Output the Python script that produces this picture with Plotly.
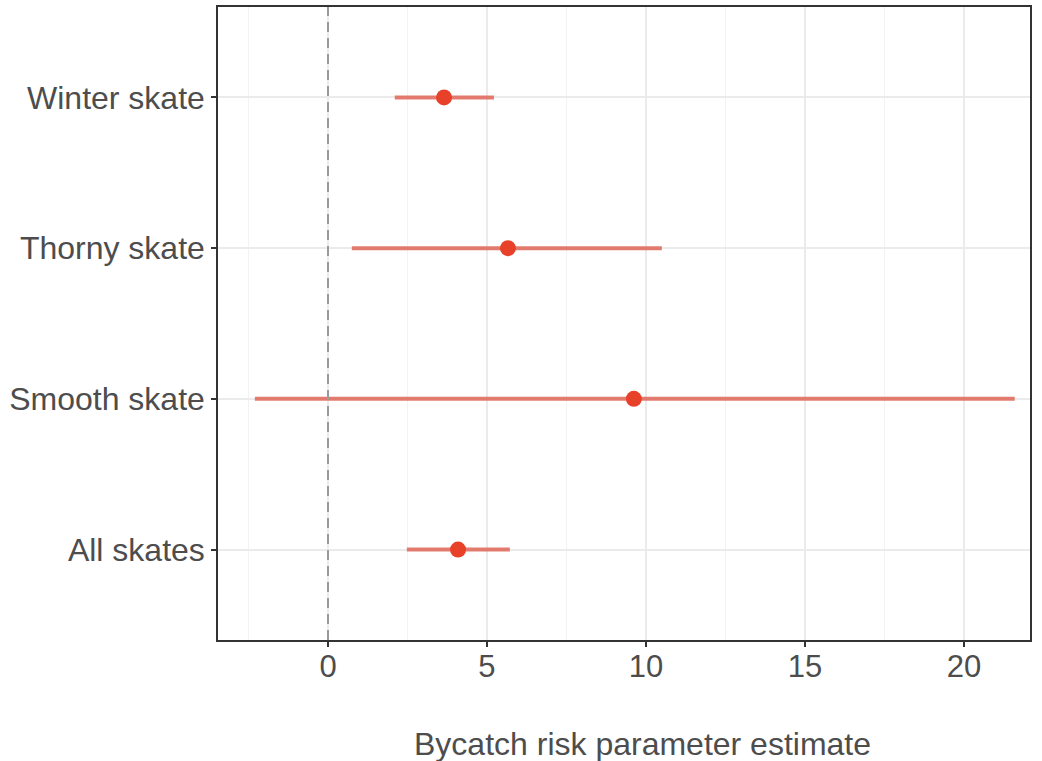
import plotly.graph_objects as go

categories = ["All skates", "Smooth skate", "Thorny skate", "Winter skate"]
estimate = [4.09, 9.62, 5.66, 3.65]
lower = [2.48, -2.30, 0.75, 2.10]
upper = [5.72, 21.60, 10.50, 5.22]
ref_x = 0

err_plus = [u - e for u, e in zip(upper, estimate)]
err_minus = [e - l for e, l in zip(estimate, lower)]

fig = go.Figure()
# dashed reference line at x = 0, on a hidden [0, 1] overlay axis
fig.add_trace(go.Scatter(
    x=[ref_x, ref_x], y=[0, 1], yaxis="y2", mode="lines",
    line=dict(color="#9a9a9a", width=2, dash="10px,6px"),
    showlegend=False, hoverinfo="skip",
))
fig.add_trace(go.Scatter(
    x=estimate, y=categories, mode="markers",
    marker=dict(size=16, color="#E8412A"),
    error_x=dict(type="data", symmetric=False, array=err_plus, arrayminus=err_minus,
                 width=0, thickness=4, color="rgba(224,110,95,0.9)"),
    showlegend=False,
))

fam = "Liberation Sans, Arial, sans-serif"
axis_font = dict(family=fam, size=31, color="#4d4d4d")
fig.update_layout(
    width=1042, height=761,
    margin=dict(l=218, r=12, t=5, b=121),
    plot_bgcolor="white", paper_bgcolor="white",
    font=axis_font,
    xaxis=dict(
        range=[-3.46, 22.08], tickvals=[0, 5, 10, 15, 20],
        showgrid=True, gridcolor="#ebebeb", gridwidth=1.5,
        minor=dict(tick0=0, dtick=2.5, showgrid=True, gridcolor="#f3f3f3", gridwidth=1, ticks=""),
        zeroline=False,
        ticks="outside", ticklen=5, tickcolor="#333333", tickwidth=1.5,
        ticklabelstandoff=-7,
        showline=True, linecolor="#333333", linewidth=1.5, mirror=True,
        tickfont=axis_font,
    ),
    yaxis=dict(
        categoryorder="array", categoryarray=categories,
        range=[-0.6, 3.6],
        showgrid=True, gridcolor="#ebebeb", gridwidth=1.5,
        zeroline=False,
        ticks="outside", ticklen=5, tickcolor="#333333", tickwidth=1.5,
        showline=True, linecolor="#333333", linewidth=1.5, mirror=True,
        tickfont=dict(family=fam, size=32, color="#4d4d4d"),
    ),
    yaxis2=dict(overlaying="y", range=[0, 1], visible=False, showgrid=False, zeroline=False),
    annotations=[dict(text="Bycatch risk parameter estimate", xref="paper", yref="paper",
                      x=0.523, y=-0.164, xanchor="center", yanchor="middle", showarrow=False,
                      font=dict(family=fam, size=32, color="#4d4d4d"))],
)

fig.write_html("out.html")
